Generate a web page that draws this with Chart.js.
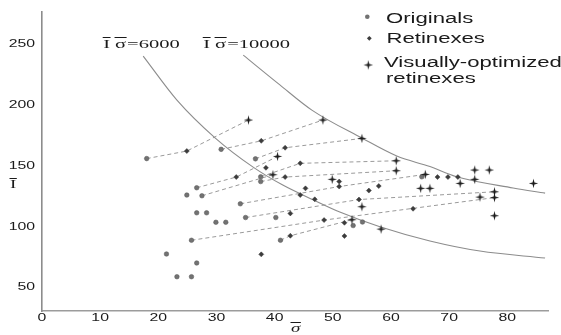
<!DOCTYPE html>
<html>
<head>
<meta charset="utf-8">
<script src="https://cdn.jsdelivr.net/npm/chart.js@4.4.0/dist/chart.umd.min.js"></script>
<style>
html, body { margin: 0; padding: 0; background: #fff; }
#wrap { width: 561px; height: 335px; }
</style>
</head>
<body>
<div id="wrap"><canvas id="chart" width="561" height="335"></canvas></div>
<script>
// [sigma, I] pairs
const originals = [
    [18.0, 155.4], [30.8, 163.0], [36.7, 155.2], [37.6, 140.4], [37.6, 136.5],
    [26.6, 131.4], [24.9, 125.4], [27.5, 124.8], [34.1, 118.2], [26.6, 110.8],
    [28.3, 110.8], [29.9, 103.0], [31.6, 103.0], [35.0, 106.9], [40.2, 106.9],
    [25.7, 88.2], [41.0, 88.2], [21.4, 76.9], [26.6, 69.5], [23.2, 58.2],
    [25.7, 58.2], [55.1, 103.2], [53.5, 100.3], [65.3, 140.4]
];
const retinexes = [
    [24.9, 161.6], [37.7, 170.0], [41.8, 164.3], [38.5, 147.8], [44.4, 151.5],
    [33.4, 140.2], [41.8, 140.2], [51.1, 136.5], [51.1, 132.4], [45.3, 130.9],
    [44.4, 125.4], [46.9, 121.9], [56.2, 129.1], [57.9, 132.8], [54.5, 121.7],
    [63.8, 114.1], [42.7, 110.3], [48.5, 104.8], [52.0, 102.6], [42.7, 91.9],
    [52.0, 91.7], [37.7, 76.6], [68.0, 140.2], [69.8, 140.2], [71.5, 140.2]
];
const optimized = [
    [35.5, 187.1], [48.3, 187.1], [55.0, 172.0], [40.5, 157.2], [39.7, 142.1],
    [60.9, 153.6], [60.9, 145.4], [49.9, 138.3], [65.9, 142.4], [65.1, 130.9],
    [66.7, 130.9], [74.4, 146.0], [76.9, 146.0], [74.4, 138.3], [71.9, 135.0],
    [84.5, 135.0], [77.8, 128.1], [77.8, 123.3], [75.3, 123.7], [77.8, 108.4],
    [55.0, 115.8], [53.3, 105.1], [58.3, 97.4]
];
// dashed links: [original, retinex, optimized] indexes, -1 = skipped
const links = [
    [0, 0, 0], [1, 1, 1], [2, 2, 2], [5, 5, 3], [3, 4, 5], [4, 6, 6],
    [7, -1, 4], [8, 8, 8], [13, 14, 16], [15, 17, 17], [16, 19, 21]
];
const curve6000 = [
    [17.4, 239.7], [23.2, 203.5], [29.8, 172.3], [36.3, 148.4], [41.4, 133.6],
    [46.6, 121.5], [51.2, 111.4], [58.1, 99.3], [66.7, 87.6], [75.3, 79.3], [86.5, 73.6]
];
const curve10000 = [
    [34.6, 240.5], [40.9, 216.0], [46.4, 195.3], [55.0, 172.3], [61.0, 157.5],
    [66.7, 148.8], [71.3, 140.4], [81.0, 131.2], [86.5, 127.0]
];
const xTicks = [0, 10, 20, 30, 40, 50, 60, 70, 80];
const yTicks = [50, 100, 150, 200, 250];
const curveLabels = [['6000', 17.4], ['10000', 34.6]];
const legendLabels = ['Originals', 'Retinexes', 'Visually-optimized', 'retinexes'];

const STRETCH = 1.58; // the figure's lettering is wide
const SANS = '"Liberation Sans", Arial, sans-serif';
const SERIF = '"Liberation Serif", "DejaVu Serif", serif';
const origColor = '#727272';
const retColor = '#3c3c3c';
const starColor = '#1c1c1c';

function toPoints(arr) {
    return arr.map(p => ({ x: p[0], y: p[1] }));
}

function makeStar(r, inner, color) {
    const c = document.createElement('canvas');
    c.width = c.height = 11;
    const g = c.getContext('2d');
    g.beginPath();
    for (let i = 0; i < 8; i++) {
        const a = i * Math.PI / 4 - Math.PI / 2;
        const rr = i % 2 === 0 ? r : inner;
        g.lineTo(5.5 + rr * Math.cos(a), 5.5 + rr * Math.sin(a));
    }
    g.closePath();
    g.fillStyle = color;
    g.fill();
    return c;
}
const starImg = makeStar(4.7, 1.3, starColor);

function wideText(ctx, s, x, y, align) {
    ctx.save();
    ctx.translate(x, y);
    ctx.scale(STRETCH, 1);
    ctx.textAlign = align || 'left';
    ctx.fillText(s, 0, 0);
    ctx.restore();
    return ctx.measureText(s).width * STRETCH;
}

// letter with a bar over it, returns its width
function barred(ctx, s, x, y, barY) {
    const w = wideText(ctx, s, x, y, 'left');
    ctx.fillRect(x - 0.5, barY, w + 1, 1);
    return w;
}

const textPlugin = {
    id: 'figureText',
    afterDraw(chart) {
        const ctx = chart.ctx;
        const xs = chart.scales.x, ys = chart.scales.y;
        ctx.save();
        ctx.fillStyle = '#1a1a1a';
        ctx.textBaseline = 'alphabetic';

        // tick labels
        ctx.font = '10px ' + SANS;
        xs.ticks.forEach(t => wideText(ctx, String(t.value), xs.getPixelForValue(t.value), 321, 'center'));
        ys.ticks.forEach(t => wideText(ctx, String(t.value), 35, ys.getPixelForValue(t.value) + 3.6, 'right'));

        // axis titles
        ctx.font = '12px ' + SERIF;
        barred(ctx, 'I', 10, 188, 178);
        ctx.font = 'italic 12px ' + SERIF;
        barred(ctx, 'σ', 291, 332, 322);

        // curve labels
        curveLabels.forEach(([val, x0]) => {
            ctx.font = '13px ' + SERIF;
            let x = xs.getPixelForValue(x0) - 40;
            const y = 48;
            x += barred(ctx, 'I', x, y, 37) + 5;
            x += barred(ctx, 'σ', x, y, 37) + 1;
            wideText(ctx, '=' + val, x, y, 'left');
        });

        // legend
        ctx.fillStyle = origColor;
        ctx.beginPath();
        ctx.arc(367.3, 16.7, 2.3, 0, Math.PI * 2);
        ctx.fill();
        ctx.fillStyle = retColor;
        ctx.beginPath();
        ctx.moveTo(369.3, 35.9); ctx.lineTo(371.7, 38.3); ctx.lineTo(369.3, 40.7); ctx.lineTo(366.9, 38.3);
        ctx.fill();
        ctx.drawImage(starImg, 368.3 - 5.5, 65 - 5.5);

        ctx.fillStyle = '#1a1a1a';
        ctx.font = '14px ' + SANS;
        wideText(ctx, legendLabels[0], 386, 22.7);
        wideText(ctx, legendLabels[1], 386.5, 42.5);
        wideText(ctx, legendLabels[2], 384, 67);
        wideText(ctx, legendLabels[3], 386, 82.5);
        ctx.restore();
    }
};

const markSets = [
    {
        label: 'Visually-optimized retinexes',
        data: toPoints(optimized),
        pointStyle: starImg,
        pointRadius: 5
    },
    {
        label: 'Retinexes',
        data: toPoints(retinexes),
        pointStyle: 'rectRot',
        pointRadius: 2.5,
        backgroundColor: retColor,
        borderColor: retColor,
        borderWidth: 0.5
    },
    {
        label: 'Originals',
        data: toPoints(originals),
        pointStyle: 'circle',
        pointRadius: 2.3,
        backgroundColor: origColor,
        borderColor: '#555',
        borderWidth: 0.5
    }
];

const curveSets = [curve6000, curve10000].map((c, i) => ({
    label: i ? 'I·σ=10000' : 'I·σ=6000',
    data: toPoints(c),
    showLine: true,
    pointRadius: 0,
    borderColor: '#8c8c8c',
    borderWidth: 1.1,
    cubicInterpolationMode: 'monotone'
}));

const linkSets = links.map(([o, r, s]) => {
    const pts = [originals[o]];
    if (r >= 0) pts.push(retinexes[r]);
    pts.push(optimized[s]);
    return {
        label: 'link',
        data: toPoints(pts),
        showLine: true,
        pointRadius: 0,
        borderColor: '#9a9a9a',
        borderWidth: 1,
        borderDash: [4, 3]
    };
});

new Chart(document.getElementById('chart'), {
    type: 'scatter',
    data: { datasets: [...markSets, ...curveSets, ...linkSets] },
    options: {
        responsive: false,
        animation: false,
        layout: { padding: { left: 42, right: 13, top: 12, bottom: 24 } },
        plugins: { legend: { display: false }, tooltip: { enabled: false } },
        scales: {
            x: {
                type: 'linear', min: 0, max: 87,
                grid: { display: false, drawTicks: false },
                border: { display: true, color: '#9c9c9c', width: 1.6 },
                ticks: { display: false },
                afterBuildTicks: s => { s.ticks = xTicks.map(v => ({ value: v })); }
            },
            y: {
                type: 'linear', min: 30, max: 276,
                grid: { display: false, drawTicks: false },
                border: { display: true, color: '#8c8c8c', width: 1.6 },
                ticks: { display: false },
                afterBuildTicks: s => { s.ticks = yTicks.map(v => ({ value: v })); }
            }
        }
    },
    plugins: [textPlugin]
});
</script>
</body>
</html>
